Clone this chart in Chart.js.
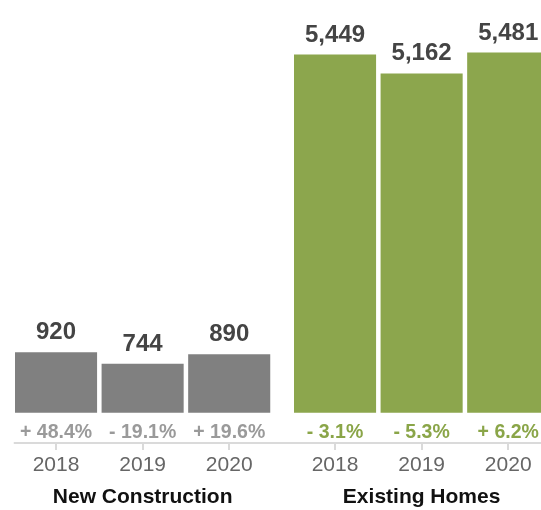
<!DOCTYPE html>
<html>
<head>
<meta charset="utf-8">
<script src="https://cdn.jsdelivr.net/npm/chart.js@4.4.1/dist/chart.umd.min.js"></script>
<style>
  html, body { margin: 0; padding: 0; background: #ffffff; overflow: hidden; }
  #wrap { position: relative; width: 541px; height: 510px; overflow: hidden; }
  .pane { position: absolute; top: 0; width: 279px; height: 510px; }
</style>
</head>
<body>
<div id="wrap">
  <div class="pane" style="left:0"><canvas id="newChart" width="279" height="510"></canvas></div>
  <div class="pane" style="left:279px"><canvas id="existingChart" width="279" height="510"></canvas></div>
</div>
<script>
// Home sales by year, split by home type
const years = ['2018', '2019', '2020'];
const newConstructionSales = [920, 744, 890];
const newConstructionChange = [48.4, -19.1, 19.6];
const existingHomeSales = [5449, 5162, 5481];
const existingHomeChange = [-3.1, -5.3, 6.2];

const FONT = "'Liberation Sans', Arial, Helvetica, sans-serif";
const AXIS_COLOR = '#dadada';

function fmtChange(v) {
  return (v >= 0 ? '+ ' : '- ') + Math.abs(v).toFixed(1) + '%';
}

// Value labels above each bar, change labels just below the zero line,
// and the baseline rule along the bottom of the plot.
const barLabels = {
  id: 'barLabels',
  afterDatasetsDraw(chart, args, opts) {
    const ctx = chart.ctx;
    const area = chart.chartArea;
    const yScale = chart.scales.y;
    const zeroY = yScale.getPixelForValue(0);
    const meta = chart.getDatasetMeta(0);
    const values = chart.data.datasets[0].data;
    ctx.save();
    ctx.textAlign = 'center';
    ctx.textBaseline = 'alphabetic';
    meta.data.forEach((bar, i) => {
      ctx.font = 'bold 24px ' + FONT;
      ctx.fillStyle = '#444444';
      ctx.fillText(values[i].toLocaleString('en-US'), bar.x, bar.y - 13);
      ctx.font = 'bold 19.5px ' + FONT;
      ctx.fillStyle = opts.changeColor;
      ctx.fillText(fmtChange(opts.changes[i]), bar.x, zeroY + 25);
    });
    // baseline rule
    const x0 = opts.ruleFromEdge ? 0 : area.left + 1;
    ctx.strokeStyle = AXIS_COLOR;
    ctx.lineWidth = 2;
    ctx.beginPath();
    ctx.moveTo(x0, area.bottom);
    ctx.lineTo(chart.width, area.bottom);
    ctx.stroke();
    ctx.restore();
  }
};

function makeChart(id, title, sales, changes, barColor, changeColor, ruleFromEdge) {
  return new Chart(document.getElementById(id), {
    type: 'bar',
    data: {
      labels: years,
      datasets: [{
        data: sales,
        backgroundColor: barColor,
        borderWidth: 0,
        barPercentage: 0.948,
        categoryPercentage: 1.0
      }]
    },
    options: {
      responsive: false,
      animation: false,
      events: [],
      layout: { padding: { left: 12.75, right: 6.5, top: 0, bottom: 0 } },
      plugins: {
        legend: { display: false },
        tooltip: { enabled: false },
        barLabels: { changes: changes, changeColor: changeColor, ruleFromEdge: ruleFromEdge }
      },
      scales: {
        y: { display: false, min: -460, max: 6280 },
        x: {
          afterFit(scale) { scale.height = 67; },
          border: { display: false },
          grid: {
            display: true,
            drawOnChartArea: false,
            drawTicks: true,
            tickLength: 7,
            offset: false,
            color: AXIS_COLOR,
            lineWidth: 2
          },
          ticks: {
            color: '#666666',
            padding: 3,
            font: { family: FONT, size: 21 }
          },
          title: {
            display: true,
            text: title,
            color: '#111111',
            font: { family: FONT, size: 21, weight: 'bold' },
            padding: { top: 0, bottom: 0 }
          }
        }
      }
    },
    plugins: [barLabels]
  });
}

makeChart('newChart', 'New Construction', newConstructionSales, newConstructionChange,
  '#808080', '#9a9a9a', false);
makeChart('existingChart', 'Existing Homes', existingHomeSales, existingHomeChange,
  '#8ca64d', '#8aa548', true);
</script>
</body>
</html>
